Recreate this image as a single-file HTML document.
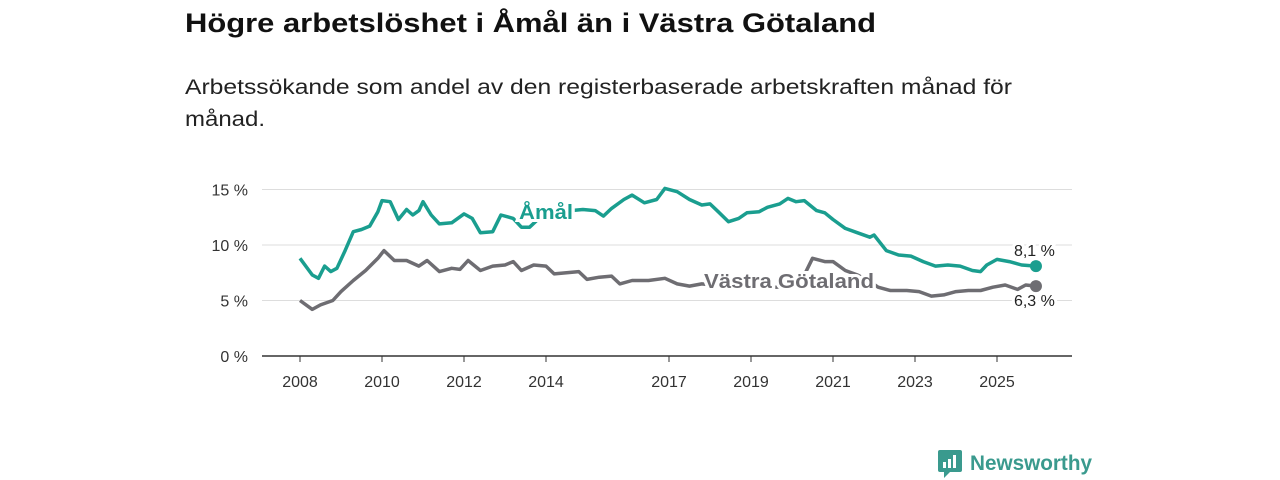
<!DOCTYPE html>
<html><head><meta charset="utf-8"><style>
body{margin:0;background:#fff;width:1280px;height:480px;overflow:hidden}
svg{display:block;font-family:"Liberation Sans",sans-serif}
</style></head><body>
<svg id="chart" width="1280" height="480">
<text x="185" y="32" font-size="27" font-weight="bold" fill="#111" textLength="691" lengthAdjust="spacingAndGlyphs">Högre arbetslöshet i Åmål än i Västra Götaland</text>
<text x="185" y="94" font-size="21" fill="#222" textLength="827" lengthAdjust="spacingAndGlyphs">Arbetssökande som andel av den registerbaserade arbetskraften månad för</text>
<text x="185" y="126" font-size="21" fill="#222" textLength="80" lengthAdjust="spacingAndGlyphs">månad.</text>
<g id="grid"></g><g id="xaxis"></g><g id="lines"></g><g id="labels"></g>
<g>
<rect x="938" y="450" width="24" height="22" rx="2" fill="#3a9a8e"/>
<path d="M944 472 L944 478 L950 472 Z" fill="#3a9a8e"/>
<rect x="943" y="462" width="3" height="6" fill="#fff"/><rect x="948" y="459" width="3" height="9" fill="#fff"/><rect x="953" y="455" width="3" height="13" fill="#fff"/>
<text x="970" y="470" font-size="21" fill="#3a9a8e" font-weight="bold" textLength="122" lengthAdjust="spacingAndGlyphs">Newsworthy</text>
</g>
</svg>
<script>
const yTicks=[0,5,10,15];
const xTickYears=[2008,2010,2012,2014,2017,2019,2021,2023,2025];
const amalT=[2008.0,2008.3,2008.45,2008.6,2008.75,2008.9,2009.1,2009.3,2009.5,2009.7,2009.9,2010.0,2010.2,2010.4,2010.6,2010.75,2010.9,2011.0,2011.2,2011.4,2011.7,2012.0,2012.2,2012.4,2012.7,2012.9,2013.2,2013.4,2013.6,2013.8,2014.3,2014.6,2014.9,2015.2,2015.4,2015.6,2015.9,2016.1,2016.4,2016.7,2016.9,2017.2,2017.5,2017.8,2018.0,2018.2,2018.45,2018.7,2018.9,2019.2,2019.4,2019.7,2019.9,2020.1,2020.3,2020.6,2020.8,2021.0,2021.3,2021.6,2021.9,2022.0,2022.3,2022.6,2022.9,2023.2,2023.5,2023.8,2024.1,2024.4,2024.6,2024.75,2025.0,2025.3,2025.6,2025.95];
const amalV=[8.8,7.3,7.0,8.1,7.6,7.9,9.5,11.2,11.4,11.7,13.0,14.0,13.9,12.3,13.2,12.7,13.1,13.9,12.7,11.9,12.0,12.8,12.4,11.1,11.2,12.7,12.4,11.6,11.6,12.3,12.4,13.1,13.2,13.1,12.6,13.3,14.1,14.5,13.8,14.1,15.1,14.8,14.1,13.6,13.7,13.0,12.1,12.4,12.9,13.0,13.4,13.7,14.2,13.9,14.0,13.1,12.9,12.3,11.5,11.1,10.7,10.9,9.5,9.1,9.0,8.5,8.1,8.2,8.1,7.7,7.6,8.2,8.7,8.5,8.2,8.1];
const vgT=[2008.0,2008.3,2008.5,2008.8,2009.0,2009.3,2009.6,2009.9,2010.05,2010.3,2010.6,2010.9,2011.1,2011.4,2011.7,2011.9,2012.1,2012.4,2012.7,2013.0,2013.2,2013.4,2013.7,2014.0,2014.2,2014.5,2014.8,2015.0,2015.3,2015.6,2015.8,2016.1,2016.5,2016.9,2017.2,2017.5,2017.8,2018.3,2019.0,2019.6,2020.1,2020.3,2020.5,2020.8,2021.0,2021.3,2021.6,2021.9,2022.1,2022.4,2022.8,2023.1,2023.4,2023.7,2024.0,2024.3,2024.6,2024.9,2025.2,2025.5,2025.7,2025.95];
const vgV=[5.0,4.2,4.6,5.0,5.8,6.8,7.7,8.8,9.5,8.6,8.6,8.1,8.6,7.6,7.9,7.8,8.6,7.7,8.1,8.2,8.5,7.7,8.2,8.1,7.4,7.5,7.6,6.9,7.1,7.2,6.5,6.8,6.8,7.0,6.5,6.3,6.5,6.3,6.2,6.2,6.4,7.3,8.8,8.5,8.5,7.7,7.3,6.7,6.2,5.9,5.9,5.8,5.4,5.5,5.8,5.9,5.9,6.2,6.4,6.0,6.4,6.3];
const x=t=>300+(t-2008)*41, y=v=>356-v*11.1;
const NS="http://www.w3.org/2000/svg";
function mk(tag,attrs,parent){const e=document.createElementNS(NS,tag);for(const k in attrs)e.setAttribute(k,attrs[k]);document.getElementById(parent).appendChild(e);return e;}
yTicks.forEach(v=>{
 const l=mk('line',{x1:262,x2:1072,y1:y(v),y2:y(v),stroke:v===0?'#333':'#ddd','stroke-width':v===0?1.5:1},'grid');
 
 
 const t=mk('text',{x:248,y:y(v)+6,'font-size':16,fill:'#333','text-anchor':'end'},'grid');t.textContent=v+' %';
 
 
});
xTickYears.forEach(yr=>{
 const l=mk('line',{x1:x(yr),x2:x(yr),y1:356,y2:362,stroke:'#333'},'xaxis');
 
 
 const t=mk('text',{x:x(yr),y:387,'font-size':16,fill:'#333','text-anchor':'middle'},'xaxis');t.textContent=yr;
 
 
});
function series(T,V,color,name){
 const d=T.map((t,i)=>(i?'L':'M')+x(t).toFixed(1)+' '+y(V[i]).toFixed(1)).join(' ');
 const p=mk('path',{d:d,fill:'none',stroke:color,'stroke-width':3.5,'stroke-linejoin':'round'},'lines');
 
 
 const n=T.length-1;
 const c=mk('circle',{cx:x(T[n]),cy:y(V[n]),r:6,fill:color},'lines');
 
 
}
series(vgT,vgV,'#6e6d72','vastra-gotaland');
series(amalT,amalV,'#1a9e8f','amal');
function label(txt,xx,yy,color,size,bold,name,len){
 const a={x:xx,y:yy,'font-size':size,fill:color,'font-weight':bold?'bold':'normal',stroke:'#fff','stroke-width':6,'paint-order':'stroke'};
 if(len){a.textLength=len;a.lengthAdjust='spacingAndGlyphs';}
 const t=mk('text',a,'labels');
 t.textContent=txt;
 
 
}
label('Åmål',519,219,'#1a9e8f',20,true,'amal-label',54);
label('Västra Götaland',704,288,'#6e6d72',20,true,'vastra-gotaland-label',170);
label('8,1 %',x(amalT[amalT.length-1])-22,y(amalV[amalV.length-1])-10,'#222',16,false,'amal-value-label');
label('6,3 %',x(vgT[vgT.length-1])-22,y(vgV[vgV.length-1])+20,'#222',16,false,'vg-value-label');
</script>
</body></html>
